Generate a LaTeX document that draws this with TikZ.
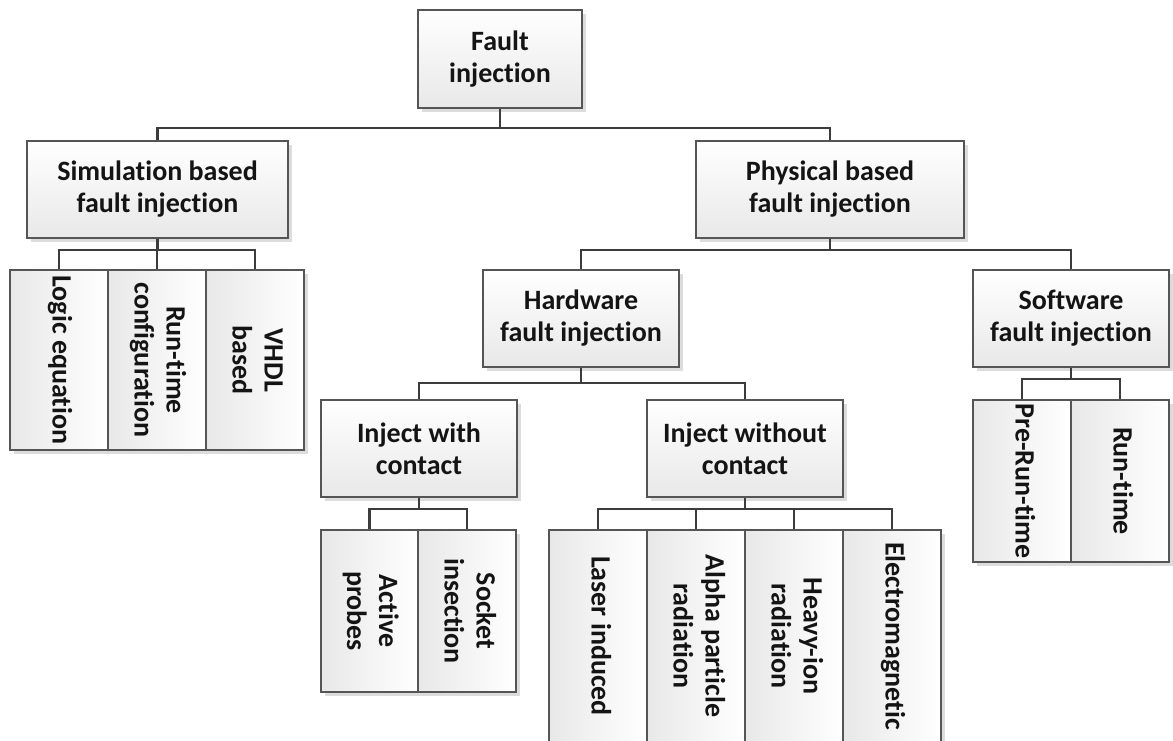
\documentclass[tikz,border=0pt]{standalone}
\usepackage{fontspec}
\setmainfont{Carlito}[Ligatures={NoCommon,NoContextual}]
\usepackage{graphicx}
\usetikzlibrary{shadows}
\definecolor{edge}{HTML}{555555}
\definecolor{wire}{HTML}{3C3C3C}
\definecolor{shade}{HTML}{DCDCDC}
\tikzset{
  box/.style={draw=edge, line width=1.3pt, inner sep=0pt, align=center,
    font=\fontsize{28}{32}\selectfont\bfseries, text=black!92,
    drop shadow={shadow xshift=3.5pt, shadow yshift=-3.5pt, fill=shade, opacity=1}},
  hbox/.style={box, top color=white, bottom color=black!9},
  vbox/.style={box, left color=black!9, right color=white},
  wirestyle/.style={draw=wire, line width=2.2pt}
}
% text running downwards inside the narrow leaf boxes
\newcommand{\vtext}[1]{\rotatebox{-90}{\begin{tabular}{@{}c@{}}#1\end{tabular}}}
\begin{document}
\begin{tikzpicture}[x=1pt,y=-1pt]
\useasboundingbox (0,0) rectangle (1173,740);

% upper levels
\node[hbox, minimum width=164, minimum height=98] (fi) at (500,59) {Fault\\injection};
\node[hbox, minimum width=261, minimum height=97] (sim) at (157.5,189.5) {Simulation based\\fault injection};
\node[hbox, minimum width=268, minimum height=97] (phys) at (830,189.5) {Physical based\\fault injection};
\node[hbox, minimum width=196, minimum height=97] (hw) at (581,318.5) {Hardware\\fault injection};
\node[hbox, minimum width=196, minimum height=97] (sw) at (1071,318.5) {Software\\fault injection};
\node[hbox, minimum width=196, minimum height=97] (iwc) at (419,448.5) {Inject with\\contact};
\node[hbox, minimum width=196, minimum height=97] (iwo) at (745,448.5) {Inject without\\contact};

% simulation leaves
\node[vbox, minimum width=98, minimum height=180] (le) at (59,360) {\vtext{Logic equation}};
\node[vbox, minimum width=98, minimum height=180] (rtc) at (157,360) {\vtext{Run-time\\configuration}};
\node[vbox, minimum width=98, minimum height=180] (vhdl) at (255,360) {\vtext{VHDL\\based}};

% contact leaves
\node[vbox, minimum width=97, minimum height=162] (ap) at (369.5,611) {\vtext{Active\\probes}};
\node[vbox, minimum width=98, minimum height=162] (si) at (467,611) {\vtext{Socket\\insection}};

% contactless leaves
\node[vbox, minimum width=98, minimum height=212] (li) at (598,636) {\vtext{Laser induced}};
\node[vbox, minimum width=98, minimum height=212] (apr) at (696,636) {\vtext{Alpha particle\\radiation}};
\node[vbox, minimum width=98, minimum height=212] (hir) at (794,636) {\vtext{Heavy-ion\\radiation}};
\node[vbox, minimum width=98, minimum height=212] (em) at (892,636) {\vtext{Electromagnetic}};

% software leaves
\node[vbox, minimum width=98, minimum height=162] (prt) at (1022,481) {\vtext{Pre-Run-time}};
\node[vbox, minimum width=98, minimum height=162] (rt) at (1120,481) {\vtext{Run-time}};

% bus levels
\coordinate (b0) at (0,128);
\coordinate (b1) at (0,250);
\coordinate (b2) at (0,250);
\coordinate (b3) at (0,383);
\coordinate (b4) at (0,379);
\coordinate (b5) at (0,509);
\coordinate (b6) at (0,509);

% connectors
\draw[wirestyle] (fi.south) -- (fi.south |- b0);
\foreach \c in {sim,phys} \draw[wirestyle] (fi.south |- b0) -| (\c.north);
\draw[wirestyle] (sim.south) -- (sim.south |- b1);
\foreach \c in {le,rtc,vhdl} \draw[wirestyle] (sim.south |- b1) -| (\c.north);
\draw[wirestyle] (phys.south) -- (phys.south |- b2);
\foreach \c in {hw,sw} \draw[wirestyle] (phys.south |- b2) -| (\c.north);
\draw[wirestyle] (hw.south) -- (hw.south |- b3);
\foreach \c in {iwc,iwo} \draw[wirestyle] (hw.south |- b3) -| (\c.north);
\draw[wirestyle] (sw.south) -- (sw.south |- b4);
\foreach \c in {prt,rt} \draw[wirestyle] (sw.south |- b4) -| (\c.north);
\draw[wirestyle] (iwc.south) -- (iwc.south |- b5);
\foreach \c in {ap,si} \draw[wirestyle] (iwc.south |- b5) -| (\c.north);
\draw[wirestyle] (iwo.south) -- (iwo.south |- b6);
\foreach \c in {li,apr,hir,em} \draw[wirestyle] (iwo.south |- b6) -| (\c.north);
\end{tikzpicture}
\end{document}
